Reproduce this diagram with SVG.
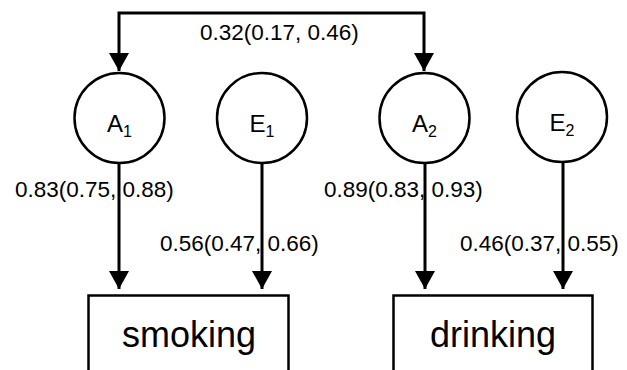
<svg xmlns="http://www.w3.org/2000/svg" width="627" height="370" viewBox="0 0 627 370">
<style>
.node{fill:#fff;stroke:#000;stroke-width:2.5}
.conn{fill:none;stroke:#000;stroke-width:3}
.lbl{font-family:"Liberation Sans",Arial,sans-serif;font-size:22.5px;fill:#000}
.nm{font-family:"Liberation Sans",Arial,sans-serif;font-size:24px;fill:#000;text-anchor:middle}
.box{font-family:"Liberation Sans",Arial,sans-serif;font-size:36px;fill:#000;text-anchor:middle}
</style>
<defs>
<marker id="ah" markerUnits="userSpaceOnUse" markerWidth="20" markerHeight="20" refX="18" refY="10" orient="auto-start-reverse" viewBox="0 0 20 20">
<path d="M0,0 L18,10 L0,20 z" fill="#000"/>
</marker>
</defs>
<rect width="627" height="370" fill="#fff"/>
<g id="connectors">
<path class="conn" d="M119,71 V13 H424 V71" marker-start="url(#ah)" marker-end="url(#ah)"/>
<path class="conn" d="M119,163 V289" marker-end="url(#ah)"/>
<path class="conn" d="M262,162 V289" marker-end="url(#ah)"/>
<path class="conn" d="M425,163 V289" marker-end="url(#ah)"/>
<path class="conn" d="M563,162 V289" marker-end="url(#ah)"/>
<text class="lbl" x="200" y="40">0.32(0.17, 0.46)</text>
<text class="lbl" x="15" y="197">0.83(0.75, 0.88)</text>
<text class="lbl" x="160" y="251">0.56(0.47, 0.66)</text>
<text class="lbl" x="324" y="197">0.89(0.83, 0.93)</text>
<text class="lbl" x="460" y="251">0.46(0.37, 0.55)</text>
</g>
<g id="A1">
<circle class="node" cx="119.5" cy="118" r="45"/>
<text class="nm" x="119.5" y="132">A<tspan font-size="16" dy="5">1</tspan></text>
</g>
<g id="E1">
<circle class="node" cx="262" cy="118" r="45"/>
<text class="nm" x="262" y="132">E<tspan font-size="16" dy="5">1</tspan></text>
</g>
<g id="A2">
<circle class="node" cx="424.5" cy="118" r="45"/>
<text class="nm" x="424.5" y="132">A<tspan font-size="16" dy="5">2</tspan></text>
</g>
<g id="E2">
<circle class="node" cx="562" cy="117" r="45"/>
<text class="nm" x="562" y="131">E<tspan font-size="16" dy="5">2</tspan></text>
</g>
<g id="smoking">
<rect class="node" x="88.5" y="295.5" width="200" height="90"/>
<text class="box" x="189" y="347">smoking</text>
</g>
<g id="drinking">
<rect class="node" x="393.5" y="295.5" width="199" height="90"/>
<text class="box" x="493" y="347">drinking</text>
</g>
</svg>
